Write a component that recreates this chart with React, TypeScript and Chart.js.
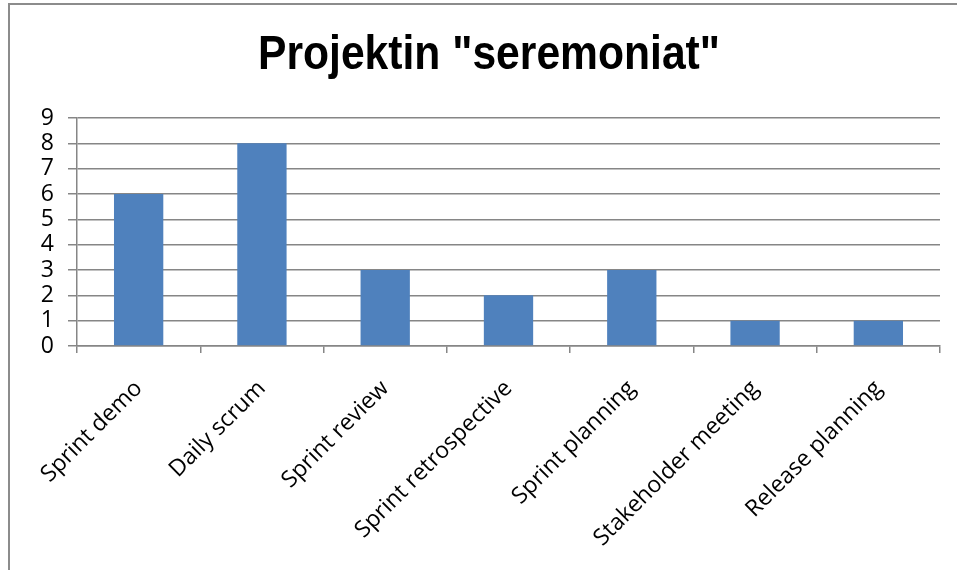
import React, { useEffect, useRef } from "react";
import { Chart, registerables } from "chart.js";

Chart.register(...registerables);

const categories = [
  "Sprint demo",
  "Daily scrum",
  "Sprint review",
  "Sprint retrospective",
  "Sprint planning",
  "Stakeholder meeting",
  "Release planning",
];
const values = [6, 8, 3, 2, 3, 1, 1];
const yMin = 0;
const yMax = 9;
const yStep = 1;
const chartTitle = 'Projektin "seremoniat"';

const narrowTitle = {
  id: "narrowTitle",
  afterDraw(chart: any) {
    const ctx = chart.ctx as CanvasRenderingContext2D;
    ctx.save();
    ctx.font = "bold 48px 'Liberation Sans', Arial, sans-serif";
    ctx.fillStyle = "#000";
    ctx.textBaseline = "alphabetic";
    ctx.textAlign = "center";
    const w = ctx.measureText(chartTitle).width;
    const targetW = 462;
    const sx = targetW / w;
    ctx.translate(489, 69);
    ctx.scale(sx, 1);
    ctx.fillText(chartTitle, 0, 0);
    ctx.restore();
  },
};

export default function App() {
  const ref = useRef<HTMLCanvasElement>(null);

  useEffect(() => {
    const chart = new Chart(ref.current!, {
      type: "bar",
      data: {
        labels: categories,
        datasets: [
          {
            data: values,
            backgroundColor: "#4F81BD",
            barPercentage: 0.4,
            categoryPercentage: 1,
          },
        ],
      },
      plugins: [narrowTitle],
      options: {
        animation: false,
        responsive: false,
        layout: { padding: { left: 20, right: 17, top: 118, bottom: 0 } },
        plugins: {
          legend: { display: false },
          tooltip: { enabled: false },
          title: { display: false },
        },
        scales: {
          x: {
            grid: {
              display: true,
              drawOnChartArea: false,
              drawTicks: true,
              tickLength: 7,
              color: "#868686",
              lineWidth: 1.5,
              offset: true,
            },
            border: { color: "#868686", width: 1.5 },
            ticks: {
              minRotation: 45,
              maxRotation: 45,
              autoSkip: false,
              color: "#000",
              font: { family: "'Open Sans', sans-serif", size: 23 },
              padding: 22,
            },
            afterFit: (s: any) => {
              s.height = 224;
            },
          },
          y: {
            min: yMin,
            max: yMax,
            ticks: {
              stepSize: yStep,
              autoSkip: false,
              color: "#000",
              font: { family: "'Open Sans', sans-serif", size: 23, lineHeight: 1 },
              padding: 14,
            },
            grid: { color: "#868686", lineWidth: 1.5, tickLength: 9 },
            border: { color: "#868686", width: 1.5 },
            afterFit: (s: any) => {
              s.width = 57;
            },
          },
        },
      },
    });
    return () => chart.destroy();
  }, []);

  return (
    <div style={{ position: "fixed", left: 0, top: 0, width: 957, height: 570, background: "#fff", overflow: "hidden" }}>
      <div
        style={{
          position: "absolute",
          left: 8,
          top: 3,
          width: 1000,
          height: 700,
          border: "2px solid #8c8c8c",
        }}
      />
      <canvas ref={ref} width={957} height={570} style={{ position: "absolute", left: 0, top: 0 }} />
    </div>
  );
}
